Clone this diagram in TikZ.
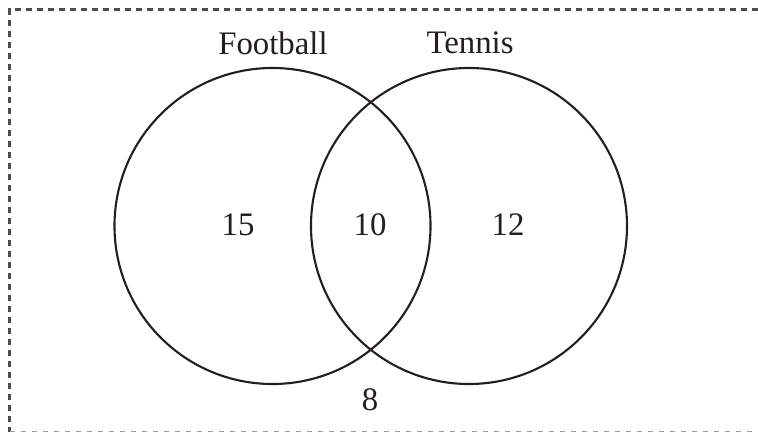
\documentclass[tikz,border=0pt]{standalone}
\usepackage{fontspec}
\setmainfont{Liberation Serif}
\usepackage{tikz}
\usetikzlibrary{positioning}
\definecolor{framegray}{HTML}{4D4D4F}
\definecolor{inkgray}{HTML}{231F20}

\begin{document}
\begin{tikzpicture}[x=0.03cm, y=-0.03cm,
    setcircle/.style={draw=inkgray, line width=1.8pt, circle,
      minimum size=9.48cm, inner sep=0pt},
    countlabel/.style={font=\fontsize{28}{30}\selectfont, text=inkgray},
    setlabel/.style={font=\fontsize{28}{30}\selectfont, text=inkgray},
    framedash/.style={line width=2pt, dash pattern=on 0.17cm off 0.16cm}]
  \useasboundingbox (0,0) rectangle (758,433);
  \clip (0,0) rectangle (758,433);
  % universe frame (right side runs off the page)
  \draw[framegray, framedash] (780,9.5) -- (9.5,9.5) -- (9.5,431.5);
  \draw[framegray!55, framedash, line width=1.6pt] (9.5,431.5) -- (780,431.5);
  % the two sets
  \node[setcircle] (football) at (272.5,226) {};
  \node[setcircle] (tennis) at (469,226) {};
  \node[setlabel] (footballname) at (273,43) {Football};
  \node[setlabel] (tennisname) at (470,43) {Tennis};
  % counts
  \node[countlabel] (onlyfootball) at (238,225) {15};
  \node[countlabel] (both) at (370,225) {10};
  \node[countlabel] (onlytennis) at (508,225) {12};
  \node[countlabel] (neither) at (370,400) {8};
\end{tikzpicture}
\end{document}
